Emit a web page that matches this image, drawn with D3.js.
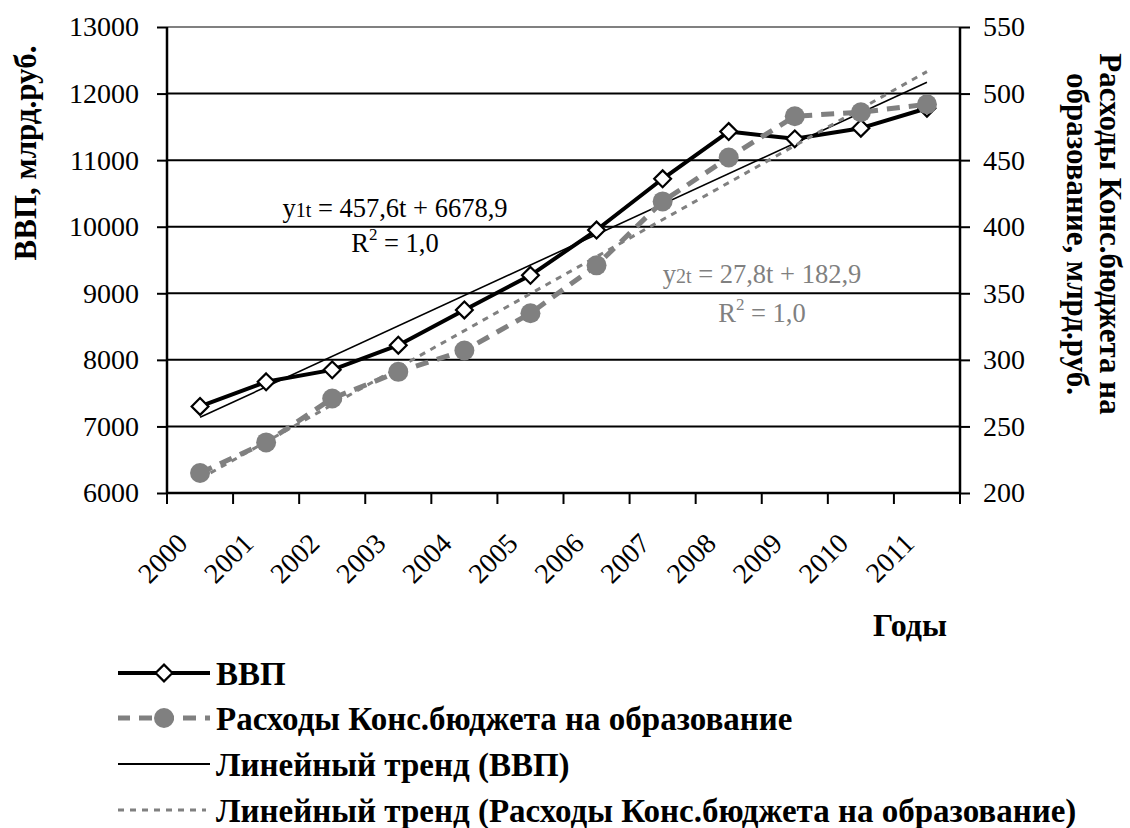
<!DOCTYPE html>
<html><head><meta charset="utf-8">
<script src="https://cdn.jsdelivr.net/npm/d3@7"></script>
<style>
html,body{margin:0;padding:0;background:#fff;}
text{font-family:"Liberation Serif","Times New Roman",serif;}
</style></head>
<body>
<svg id="c" width="1130" height="828"></svg>
<script>
const years = ['2000','2001','2002','2003','2004','2005','2006','2007','2008','2009','2010','2011'];
const gdp = [7300, 7670, 7850, 8220, 8750, 9270, 9950, 10720, 11430, 11320, 11480, 11780];
const edu = [215, 238, 271, 291, 307, 335, 371, 419, 452, 483, 486, 492];
const gdpTrend = [7136.5, 12170.1];   // ends of the GDP trend line (first, last year)
const eduTrend = [210.7, 516.5];      // ends of the education trend line
const leftTicks = [6000,7000,8000,9000,10000,11000,12000,13000];
const rightTicks = [200,250,300,350,400,450,500,550];
const legendLabels = ['ВВП','Расходы Конс.бюджета на образование','Линейный тренд (ВВП)','Линейный тренд (Расходы Конс.бюджета на образование)'];

const GRAY = '#808080';
const BOLD = 32;
const svg = d3.select('#c');
const L = 167, R = 960, T = 27, B = 493;
const x = d3.scaleBand().domain(years).range([L, R]).padding(0);
const cx = d => x(d) + x.bandwidth()/2;
const yL = d3.scaleLinear().domain([6000, 13000]).range([B, T]);
const yR = d3.scaleLinear().domain([200, 550]).range([B, T]);

// gridlines
svg.append('g').selectAll('line').data(leftTicks).join('line')
  .attr('x1', L).attr('x2', R).attr('y1', d => yL(d)).attr('y2', d => yL(d))
  .attr('stroke', d => d === 13000 ? GRAY : '#000').attr('stroke-width', 2);

// left axis
const gl = svg.append('g').attr('transform', `translate(${L},0)`)
  .call(d3.axisLeft(yL).tickValues(leftTicks).tickSize(10).tickPadding(18).tickFormat(d3.format('d')));
gl.select('.domain').attr('stroke','#000').attr('stroke-width',2.5).attr('d', `M0,${T}V${B}`);
gl.selectAll('.tick line').attr('stroke','#000').attr('stroke-width',2);
gl.selectAll('.tick text').attr('font-size', 28).attr('fill','#000');

// right axis
const gr = svg.append('g').attr('transform', `translate(${R},0)`)
  .call(d3.axisRight(yR).tickValues(rightTicks).tickSize(10).tickPadding(13).tickFormat(d3.format('d')));
gr.select('.domain').attr('stroke','#000').attr('stroke-width',2.5).attr('d', `M0,${T}V${B}`);
gr.selectAll('.tick line').attr('stroke','#000').attr('stroke-width',2);
gr.selectAll('.tick text').attr('font-size', 28).attr('fill','#000');

// bottom axis
const gb = svg.append('g').attr('transform', `translate(0,${B})`)
  .call(d3.axisBottom(x).tickSize(0).tickFormat(d => d));
gb.select('.domain').attr('stroke','#000').attr('stroke-width',2.5).attr('d', `M${L},0H${R}`);
gb.selectAll('.tick text')
  .attr('font-size', 28).attr('fill','#000')
  .attr('text-anchor','end').attr('dy','0.35em')
  .attr('transform', 'translate(-20,43) rotate(-45)');
const bounds = years.map(d => x(d)).concat([R]);
svg.append('g').selectAll('line').data(bounds).join('line')
  .attr('x1', d => d).attr('x2', d => d).attr('y1', B).attr('y2', B + 11)
  .attr('stroke','#000').attr('stroke-width',2);

// axis titles
svg.append('text').attr('transform','translate(25,153) rotate(-90)')
  .attr('text-anchor','middle').attr('dominant-baseline','central')
  .attr('font-size',31).attr('font-weight','bold').text('ВВП, млрд.руб.');
svg.append('text').attr('transform','translate(1110,234) rotate(90)')
  .attr('text-anchor','middle').attr('dominant-baseline','central')
  .attr('font-size',31).attr('font-weight','bold').text('Расходы Конс.бюджета на');
svg.append('text').attr('transform','translate(1077,234) rotate(90)')
  .attr('text-anchor','middle').attr('dominant-baseline','central')
  .attr('font-size',31).attr('font-weight','bold').text('образование, млрд.руб.');
svg.append('text').attr('x', 910).attr('y', 636).attr('text-anchor','middle')
  .attr('font-size',BOLD).attr('font-weight','bold').text('Годы');

// GDP trend
const ends = [years[0], years[years.length-1]];
svg.append('path').datum(ends.map((d,i) => [cx(d), yL(gdpTrend[i])]))
  .attr('d', d3.line()).attr('fill','none').attr('stroke','#000').attr('stroke-width',1.6);

// GDP line
svg.append('path').datum(years.map((d,i) => [cx(d), yL(gdp[i])]))
  .attr('d', d3.line()).attr('fill','none').attr('stroke','#000').attr('stroke-width',4)
  .attr('stroke-linejoin','round');
const diamond = d3.symbol().type(d3.symbolDiamond2 || d3.symbolSquare2).size(180);
svg.append('g').selectAll('path').data(years).join('path')
  .attr('transform', (d,i) => `translate(${cx(d)},${yL(gdp[i])}) rotate(${d3.symbolDiamond2 ? 0 : 45})`)
  .attr('d', diamond).attr('fill','#fff').attr('stroke','#000').attr('stroke-width',2.2);

// education trend
svg.append('path').datum(ends.map((d,i) => [cx(d), yR(eduTrend[i])]))
  .attr('d', d3.line()).attr('fill','none').attr('stroke',GRAY).attr('stroke-width',3)
  .attr('stroke-dasharray','6,6');

// education line
svg.append('path').datum(years.map((d,i) => [cx(d), yR(edu[i])]))
  .attr('d', d3.line()).attr('fill','none').attr('stroke',GRAY).attr('stroke-width',5)
  .attr('stroke-dasharray','13,9');
svg.append('g').selectAll('circle').data(years).join('circle')
  .attr('cx', d => cx(d)).attr('cy', (d,i) => yR(edu[i])).attr('r', 10).attr('fill', GRAY);

// trend equations
function eq(xc, yb, sub, rest, color){
  const t = svg.append('text').attr('x', xc).attr('y', yb).attr('text-anchor','middle')
    .attr('font-size', 26.5).attr('fill', color);
  t.append('tspan').text('y');
  t.append('tspan').attr('font-size', 20).text(sub);
  t.append('tspan').text(rest);
}
function r2(xc, yb, color){
  const t = svg.append('text').attr('x', xc).attr('y', yb).attr('text-anchor','middle')
    .attr('font-size', 26.5).attr('fill', color);
  t.append('tspan').text('R');
  t.append('tspan').attr('font-size', 17).attr('dy', -12).text('2');
  t.append('tspan').attr('dy', 12).text(' = 1,0');
}
eq(395, 217, '1t', ' = 457,6t + 6678,9', '#000');
r2(395, 252, '#000');
eq(762, 283, '2t', ' = 27,8t + 182,9', GRAY);
r2(762, 322, GRAY);

// legend
const rows = [673, 718, 764, 810];
const lg = svg.append('g');
const sx0 = 118, sx1 = 210, sxc = 164;
// row 1
lg.append('line').attr('x1',sx0).attr('x2',sx1).attr('y1',rows[0]).attr('y2',rows[0]).attr('stroke','#000').attr('stroke-width',4);
lg.append('path').attr('transform',`translate(${sxc},${rows[0]}) rotate(${d3.symbolDiamond2 ? 0 : 45})`).attr('d',diamond)
  .attr('fill','#fff').attr('stroke','#000').attr('stroke-width',2.2);
// row 2
lg.append('line').attr('x1',sx0).attr('x2',sx1).attr('y1',rows[1]).attr('y2',rows[1]).attr('stroke',GRAY).attr('stroke-width',5)
  .attr('stroke-dasharray','13,9').attr('stroke-dashoffset', 1);
lg.append('circle').attr('cx',sxc).attr('cy',rows[1]).attr('r',10).attr('fill',GRAY);
// row 3
lg.append('line').attr('x1',sx0).attr('x2',sx1).attr('y1',rows[2]).attr('y2',rows[2]).attr('stroke','#000').attr('stroke-width',1.8);
// row 4
lg.append('line').attr('x1',sx0).attr('x2',sx1 - 4).attr('y1',rows[3]).attr('y2',rows[3]).attr('stroke',GRAY).attr('stroke-width',3)
  .attr('stroke-dasharray','6,6');
lg.selectAll('text').data(legendLabels).join('text')
  .attr('x', 216).attr('y', (d,i) => rows[i]).attr('dy','0.35em')
  .attr('font-size', 33).attr('font-weight','bold').text(d => d);
</script>
</body></html>
